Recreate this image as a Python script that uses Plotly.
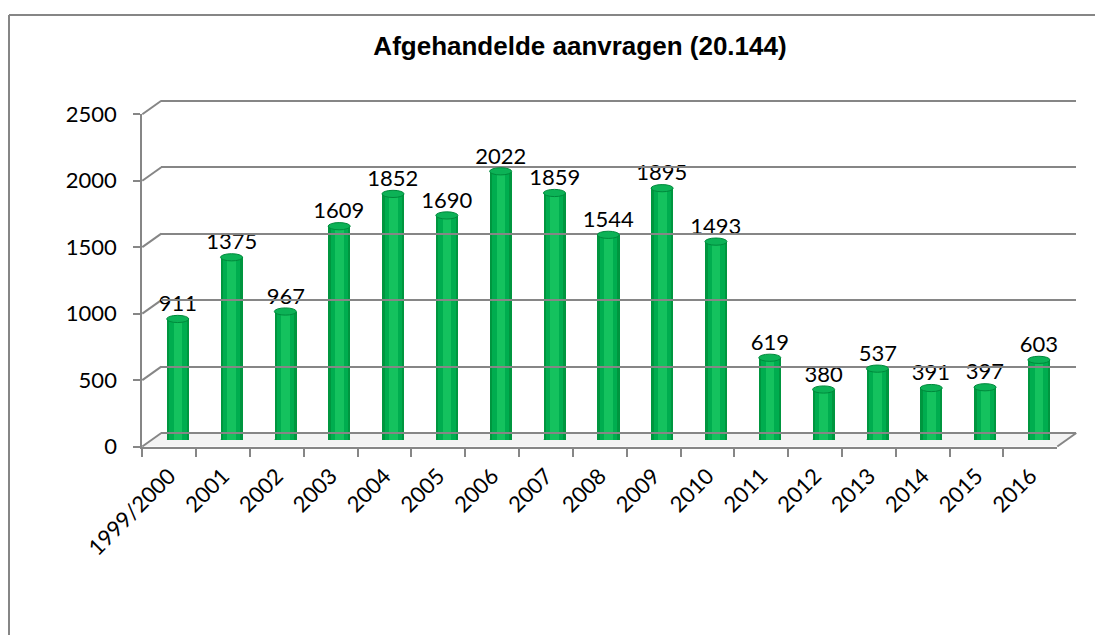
import plotly.graph_objects as go

# ---- data ----
categories = ["1999/2000", "2001", "2002", "2003", "2004", "2005", "2006", "2007",
              "2008", "2009", "2010", "2011", "2012", "2013", "2014", "2015", "2016"]
values = [911, 1375, 967, 1609, 1852, 1690, 2022, 1859, 1544, 1895, 1493,
          619, 380, 537, 391, 397, 603]
y_ticks = [0, 500, 1000, 1500, 2000, 2500]
title_text = "Afgehandelde aanvragen (20.144)"

# ---- geometry (window pixels; page body has an 8px margin) ----
OFF = 8
W, H = 1103 - OFF, 635 - OFF
def px(x): return (x - OFF) / W
def py(y): return 1 - (y - OFF) / H

Y_MAX = 2500
FRONT_X0, FRONT_X1 = 142.3, 1057.3
FRONT_Y0, FRONT_Y1 = 446.5, 114.3
SCALE = (FRONT_Y0 - FRONT_Y1) / Y_MAX
BAR_DX, BAR_DY = 8.5, 6.5
BACK_DX, BACK_DY = 19.0, 13.5
BACK_PAD = 12  # extra range so the top back gridline is drawn

GRAY = "#868686"
FONT = "Lato"

fig = go.Figure()

n = len(categories)
idx = list(range(n))

# cylinder-like bars (layered)
fig.add_trace(go.Bar(x=idx, y=values, width=0.41, marker=dict(color="#00963F", line_width=0),
                     xaxis="x2", yaxis="y2", text=[str(v) for v in values],
                     textposition="outside", cliponaxis=False, constraintext="none",
                     textfont=dict(family=FONT, size=22, color="black"),
                     hoverinfo="skip", showlegend=False))
fig.add_trace(go.Bar(x=idx, y=values, width=0.32, marker=dict(color="#00AD4F", line_width=0),
                     xaxis="x2", yaxis="y2", hoverinfo="skip", showlegend=False))
fig.add_trace(go.Bar(x=idx, y=values, width=0.16, marker=dict(color="#14C25E", line_width=0),
                     xaxis="x2", yaxis="y2", hoverinfo="skip", showlegend=False))

# invisible traces to establish the front and back axes
fig.add_trace(go.Scatter(x=categories, y=[None] * n, xaxis="x", yaxis="y",
                         mode="markers", showlegend=False, hoverinfo="skip"))
fig.add_trace(go.Scatter(x=idx, y=[None] * n, xaxis="x3", yaxis="y3",
                         mode="markers", showlegend=False, hoverinfo="skip"))

shapes = []
# floor
shapes.append(dict(type="path", xref="paper", yref="paper", layer="below",
                   path=f"M {px(FRONT_X0)} {py(FRONT_Y0)} L {px(FRONT_X0 + BACK_DX)} {py(FRONT_Y0 - BACK_DY)} "
                        f"L {px(FRONT_X1 + BACK_DX)} {py(FRONT_Y0 - BACK_DY)} L {px(FRONT_X1)} {py(FRONT_Y0)} Z",
                   fillcolor="#F3F3F3", line=dict(width=0)))
# left wall diagonals
for t in y_ticks:
    yf = FRONT_Y0 - t * SCALE
    shapes.append(dict(type="line", xref="paper", yref="paper", layer="below",
                       x0=px(FRONT_X0), y0=py(yf), x1=px(FRONT_X0 + BACK_DX), y1=py(yf - BACK_DY),
                       line=dict(color=GRAY, width=2)))
# right floor diagonal
shapes.append(dict(type="line", xref="paper", yref="paper", layer="below",
                   x0=px(FRONT_X1), y0=py(FRONT_Y0), x1=px(FRONT_X1 + BACK_DX), y1=py(FRONT_Y0 - BACK_DY),
                   line=dict(color=GRAY, width=2)))
# cylinder bottom & top ellipses
eh = 3.6 / SCALE
for i, v in zip(idx, values):
    shapes.append(dict(type="circle", xref="x2", yref="y2", layer="below",
                       x0=i - 0.205, x1=i + 0.205, y0=-eh, y1=eh,
                       fillcolor="#00963F", line=dict(width=0)))
    shapes.append(dict(type="circle", xref="x2", yref="y2", layer="above",
                       x0=i - 0.205, x1=i + 0.205, y0=v - eh, y1=v + eh,
                       fillcolor="#0CB256", line=dict(color="#00893C", width=1)))
# chart border
shapes.append(dict(type="line", xref="paper", yref="paper", x0=px(9), y0=py(15), x1=px(1110), y1=py(15),
                   line=dict(color=GRAY, width=2)))
shapes.append(dict(type="line", xref="paper", yref="paper", x0=px(9), y0=py(15), x1=px(9), y1=py(640),
                   line=dict(color=GRAY, width=2)))

back_y0 = FRONT_Y0 - BACK_DY
back_top = back_y0 - (Y_MAX + BACK_PAD) * SCALE

fig.update_layout(
    width=W, height=H,
    margin=dict(l=0, r=0, t=0, b=0, autoexpand=False),
    paper_bgcolor="white", plot_bgcolor="rgba(0,0,0,0)",
    barmode="overlay", bargap=0,
    font=dict(family=FONT, size=22, color="black"),
    shapes=shapes,
    title=dict(text=title_text, x=px(580), y=py(46), xanchor="center", yanchor="middle",
               automargin=False,
               font=dict(family="Liberation Sans", size=26, color="black", weight="bold")),
    xaxis=dict(domain=[px(FRONT_X0), px(FRONT_X1)], anchor="y", type="category",
               categoryorder="array", categoryarray=categories, range=[-0.5, n - 0.5],
               tickson="boundaries", ticks="outside", ticklen=8, tickwidth=2, tickcolor=GRAY,
               showline=True, linecolor=GRAY, linewidth=2, showgrid=False, zeroline=False,
               tickangle=-45, tickfont=dict(family=FONT, size=22), ticklabelstandoff=6,
               automargin=False, fixedrange=True),
    yaxis=dict(domain=[py(FRONT_Y0), py(FRONT_Y1)], anchor="x", range=[0, Y_MAX],
               tickvals=y_ticks, ticks="outside", ticklen=7, tickwidth=2, tickcolor=GRAY,
               showline=True, linecolor=GRAY, linewidth=2, showgrid=False, zeroline=False,
               tickfont=dict(family=FONT, size=22), ticklabelstandoff=12,
               automargin=False, fixedrange=True),
    xaxis2=dict(domain=[px(FRONT_X0 + BAR_DX), px(FRONT_X1 + BAR_DX)], anchor="y2",
                range=[-0.5, n - 0.5], visible=False, automargin=False, fixedrange=True),
    yaxis2=dict(domain=[py(FRONT_Y0 - BAR_DY), py(FRONT_Y1 - BAR_DY)], anchor="x2",
                range=[0, Y_MAX], visible=False, automargin=False, fixedrange=True),
    xaxis3=dict(domain=[px(FRONT_X0 + BACK_DX), px(FRONT_X1 + BACK_DX)], anchor="y3",
                range=[-0.5, n - 0.5], showgrid=False, showticklabels=False, ticks="",
                zeroline=False, showline=False, automargin=False, fixedrange=True),
    yaxis3=dict(domain=[py(back_y0), py(back_top)], anchor="x3",
                range=[0, Y_MAX + BACK_PAD], tickvals=y_ticks, showgrid=True, gridcolor=GRAY, gridwidth=2,
                showticklabels=False, ticks="", zeroline=True, zerolinecolor=GRAY, zerolinewidth=2,
                showline=False, automargin=False, fixedrange=True),
)

fig.write_html("out.html")
